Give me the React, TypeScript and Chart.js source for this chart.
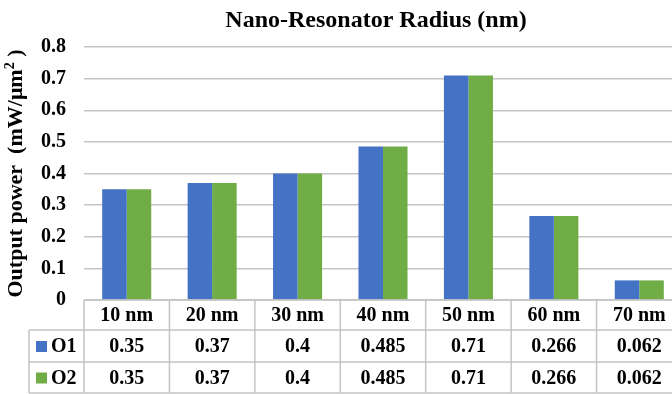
import React, { useEffect, useRef } from "react";
import { Chart, registerables } from "chart.js";

Chart.register(...registerables);

const categories = ["10 nm", "20 nm", "30 nm", "40 nm", "50 nm", "60 nm", "70 nm"];
const seriesNames = ["O1", "O2"];
const o1Values = [0.35, 0.37, 0.4, 0.485, 0.71, 0.266, 0.062];
const o2Values = [0.35, 0.37, 0.4, 0.485, 0.71, 0.266, 0.062];
const tableLabels1 = ["0.35", "0.37", "0.4", "0.485", "0.71", "0.266", "0.062"];
const tableLabels2 = ["0.35", "0.37", "0.4", "0.485", "0.71", "0.266", "0.062"];
const seriesColors = ["#4472C4", "#70AD47"];
const chartTitle = "Nano-Resonator Radius (nm)";

const FONT = "'Liberation Serif', 'Times New Roman', serif";
const GRID = "#c4c4c4";

const tablePlugin = {
  id: "tablePlugin",
  afterDraw(chart: any) {
    const ctx = chart.ctx;
    const area = chart.chartArea;
    const x = chart.scales.x;
    const n = categories.length;
    const cw = (area.right - area.left) / n;
    const top = area.bottom;
    const rowH = [30, 32, 31];
    const y1 = top + rowH[0];
    const y2 = y1 + rowH[1];
    const y3 = y2 + rowH[2];
    const legendLeft = 29;

    ctx.save();
    // Title
    ctx.fillStyle = "#000";
    ctx.font = `bold 24px ${FONT}`;
    ctx.textAlign = "center";
    ctx.textBaseline = "alphabetic";
    ctx.fillText(chartTitle, 376, 27);

    // Y axis title (rotated)
    ctx.save();
    ctx.translate(16, (area.top + area.bottom) / 2);
    ctx.rotate(-Math.PI / 2);
    ctx.textBaseline = "middle";
    ctx.textAlign = "left";
    const mainFont = `bold 22px ${FONT}`;
    const supFont = `bold 14px ${FONT}`;
    const p1 = "Output power  (mW/μm";
    const p2 = "2";
    const p3 = " )";
    ctx.font = mainFont;
    const w1 = ctx.measureText(p1).width;
    const w3 = ctx.measureText(p3).width;
    ctx.font = supFont;
    const w2 = ctx.measureText(p2).width;
    const total = w1 + w2 + w3;
    let cx = -total / 2;
    ctx.font = mainFont;
    ctx.fillText(p1, cx, 0);
    cx += w1;
    ctx.font = supFont;
    ctx.fillText(p2, cx, -6);
    cx += w2;
    ctx.font = mainFont;
    ctx.fillText(p3, cx, 0);
    ctx.restore();

    // Table lines
    ctx.strokeStyle = GRID;
    ctx.lineWidth = 1.5;
    ctx.beginPath();
    ctx.moveTo(area.left, top);
    ctx.lineTo(area.right, top);
    for (const yy of [y1, y2, y3]) {
      ctx.moveTo(legendLeft, yy);
      ctx.lineTo(area.right, yy);
    }
    for (let i = 0; i <= n; i++) {
      const xx = area.left + i * cw;
      ctx.moveTo(xx, top);
      ctx.lineTo(xx, y3);
    }
    ctx.moveTo(legendLeft, y1);
    ctx.lineTo(legendLeft, y3);
    ctx.stroke();

    // Table text
    ctx.fillStyle = "#000";
    ctx.font = `bold 20px ${FONT}`;
    ctx.textAlign = "center";
    ctx.textBaseline = "middle";
    const rows = [tableLabels1, tableLabels2];
    for (let i = 0; i < n; i++) {
      const px = x.getPixelForValue(i);
      ctx.fillText(categories[i], px, (top + y1) / 2 + 1);
      ctx.fillText(rows[0][i], px, (y1 + y2) / 2 + 1);
      ctx.fillText(rows[1][i], px, (y2 + y3) / 2 + 1);
    }

    // Legend keys
    const rowCenters = [(y1 + y2) / 2, (y2 + y3) / 2];
    for (let s = 0; s < 2; s++) {
      ctx.fillStyle = seriesColors[s];
      ctx.fillRect(36, rowCenters[s] - 5, 11, 11);
      ctx.fillStyle = "#000";
      ctx.textAlign = "left";
      ctx.fillText(seriesNames[s], 51, rowCenters[s] + 1);
    }
    ctx.restore();
  },
};

export default function App() {
  const ref = useRef<HTMLCanvasElement | null>(null);
  useEffect(() => {
    document.body.style.margin = "0";
    const canvas = ref.current!;
    const chart = new Chart(canvas, {
      type: "bar",
      data: {
        labels: categories,
        datasets: [
          {
            label: seriesNames[0],
            data: o1Values,
            backgroundColor: seriesColors[0],
            borderWidth: 0,
            categoryPercentage: 0.574,
            barPercentage: 1,
          },
          {
            label: seriesNames[1],
            data: o2Values,
            backgroundColor: seriesColors[1],
            borderWidth: 0,
            categoryPercentage: 0.574,
            barPercentage: 1,
          },
        ],
      },
      options: {
        responsive: false,
        animation: false,
        devicePixelRatio: 1,
        layout: { padding: { left: 0, right: 18, top: 47, bottom: 94 } },
        plugins: {
          legend: { display: false },
          title: { display: false },
          tooltip: { enabled: false },
        },
        scales: {
          x: {
            display: false,
          },
          y: {
            min: 0,
            max: 0.8,
            afterFit: (scale: any) => {
              scale.width = 84;
            },
            border: { display: false },
            grid: { color: GRID, lineWidth: 1.5, drawTicks: false },
            ticks: {
              stepSize: 0.1,
              padding: 18,
              color: "#000",
              font: { family: FONT, size: 20, weight: "bold" },
              callback: (v: any) => (Number(v) === 0 ? "0" : Number(v).toFixed(1)),
            },
          },
        },
      },
      plugins: [tablePlugin],
    });
    return () => chart.destroy();
  }, []);
  return (
    <div style={{ position: "fixed", left: 0, top: 0, width: 672, height: 394, overflow: "hidden", background: "#fff" }}>
      <canvas ref={ref} width={700} height={394} style={{ width: 700, height: 394, display: "block" }} />
    </div>
  );
}
